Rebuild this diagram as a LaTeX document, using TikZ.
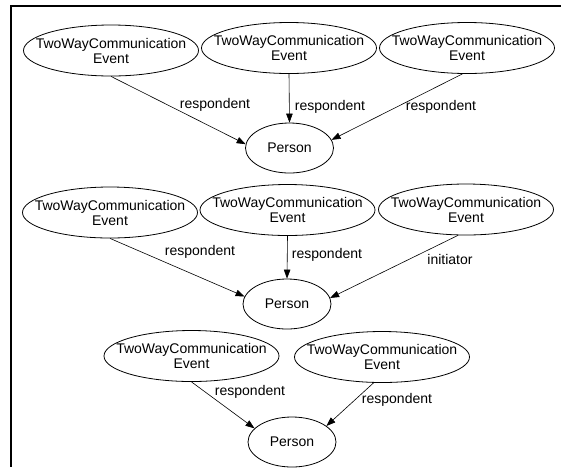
\documentclass[tikz,border=0pt]{standalone}
\usepackage{fontspec}
\setmainfont{Liberation Sans}
\usetikzlibrary{shapes.geometric,arrows.meta}

\begin{document}
\begin{tikzpicture}[
		x=1pt, y=-1pt,
		every node/.style={font=\fontsize{14}{15}\selectfont},
		event/.style={draw, ellipse, align=center, inner xsep=-20pt, inner ysep=0pt, minimum width=175pt, minimum height=51pt, line width=0.8pt},
		person/.style={draw, ellipse, inner sep=0pt, minimum width=88pt, minimum height=50pt, line width=0.8pt},
		role/.style={inner sep=0pt},
		link/.style={-{Triangle[length=9pt,width=6.5pt]}, line width=0.6pt}
		]
	\useasboundingbox (0,0) rectangle (561,467);
	\draw[line width=2pt] (561,6) -- (11,6) -- (11,467);

	\node[event] (e1) at (111,50.5) {TwoWayCommunication\\Event};
	\node[event] (e2) at (289,48) {TwoWayCommunication\\Event};
	\node[event] (e3) at (467,48) {TwoWayCommunication\\Event};
	\node[person] (p1) at (289.5,148) {Person};
	\draw[link] (e1.south) -- (p1.175);
	\draw[link] (e2.south) -- (p1.north);
	\draw[link] (e3.-100) -- (p1.11);
	\node[role] (r1) at (215,105) {respondent};
	\node[role] (r2) at (330,107) {respondent};
	\node[role] (r3) at (441,107) {respondent};

	\node[event] (e4) at (110,212.5) {TwoWayCommunication\\Event};
	\node[event] (e5) at (287.5,210) {TwoWayCommunication\\Event};
	\node[event] (e6) at (466,209.5) {TwoWayCommunication\\Event};
	\node[person] (p2) at (287,304) {Person};
	\draw[link] (e4.south) -- (p2.170);
	\draw[link] (e5.south) -- (p2.north);
	\draw[link] (e6.-107) -- (p2.8);
	\node[role] (r4) at (200,252) {respondent};
	\node[role] (r5) at (327,255) {respondent};
	\node[role] (r6) at (450,259) {initiator};

	\node[event] (e7) at (191.5,356) {TwoWayCommunication\\Event};
	\node[event] (e8) at (382,357) {TwoWayCommunication\\Event};
	\node[person] (p3) at (292,442) {Person};
	\draw[link] (e7.south) -- (p3.160);
	\draw[link] (e8.-108) -- (p3.25);
	\node[role] (r7) at (250,392) {respondent};
	\node[role] (r8) at (397,400) {respondent};
\end{tikzpicture}
\end{document}
